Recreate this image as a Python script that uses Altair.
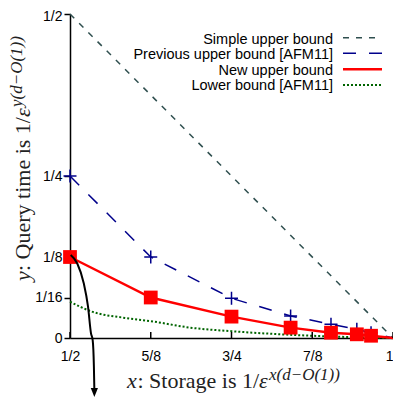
import altair as alt
import pandas as pd

# ---------------- data ----------------
x_ticks = [0.5, 0.625, 0.75, 0.875, 1.0]
x_tick_labels = ["1/2", "5/8", "3/4", "7/8", "1"]
y_ticks = [0.0, 0.0625, 0.125, 0.25, 0.5]
y_tick_labels = ["0", "1/16", "1/8", "1/4", "1/2"]

simple_x = [0.5, 1.0]
simple_y = [0.5, 0.0]

step_x = [0.5, 0.625, 0.75, 0.8415, 0.904, 0.944, 0.966, 1.0]
prev_y = [0.25, 0.125, 0.0613, 0.034, 0.0212, 0.0134, 0.008, 0.0]
new_y = [0.125, 0.0625, 0.033, 0.016, 0.0082, 0.0057, 0.0035, 0.0]
n_markers = 7

lower_x = [0.5, 0.533, 0.585, 0.625, 0.686, 0.75, 0.84, 0.9, 0.95, 1.0]
lower_y = [0.056, 0.041, 0.031, 0.026, 0.016, 0.0105, 0.005, 0.0025, 0.001, 0.0]

arrow_x = [0.5011, 0.5111, 0.5213, 0.5279, 0.5325, 0.5351, 0.5370, 0.5377]
arrow_y = [0.1281, 0.1153, 0.0844, 0.0483, 0.0072, -0.0031, -0.0443, -0.0802]
arrow_tip_x = [0.5377]
arrow_tip_y = [-0.0841]

legend_labels = ["Simple upper bound", "Previous upper bound [AFM11]",
                 "New upper bound", "Lower bound [AFM11]"]

# ---------------- styles ----------------
W, H = 323, 324
C_SIMPLE = "#2F4F4F"
C_PREV = "#00008B"
C_NEW = "#FF0000"
C_LOW = "#006400"
SANS = "Liberation Sans"
SERIF = "Liberation Serif"


def ternary(vals, labels):
    parts = [f"datum.value == {v} ? '{l}'" for v, l in zip(vals, labels)]
    return " : ".join(parts) + " : ''"


xs = alt.Scale(domain=[0.5, 1.0], nice=False, zero=False)
ys = alt.Scale(domain=[0.0, 0.5], nice=False, zero=False)

x_axis = alt.Axis(values=x_ticks, labelExpr=ternary(x_ticks, x_tick_labels), ticks=False,
                  labelPadding=11, labelFont=SANS, labelFontSize=14, labelColor="black",
                  labelAlign={"condition": {"test": "datum.value == 1", "value": "right"},
                              "value": "center"},
                  domainColor="black", domainWidth=1.5, grid=False, title=None,
                  labelFlush=False, labelOverlap=False, labelBound=False)
y_axis = alt.Axis(values=y_ticks, labelExpr=ternary(y_ticks, y_tick_labels), tickSize=6,
                  tickColor="black", tickWidth=1.5, labelPadding=2, labelFont=SANS,
                  labelFontSize=14, labelColor="black", domainColor="black", domainWidth=1.5,
                  labelOffset={"condition": {"test": "datum.value == 0.5", "value": 2},
                               "value": 0},
                  grid=False, title=None, labelFlush=False, labelOverlap=False)


def X(f="x"):
    return alt.X(f"{f}:Q", scale=xs, axis=x_axis)


def Y(f="y"):
    return alt.Y(f"{f}:Q", scale=ys, axis=y_axis)


simple_df = pd.DataFrame({"x": simple_x, "y": simple_y})
prev_df = pd.DataFrame({"x": step_x, "y": prev_y})
new_df = pd.DataFrame({"x": step_x, "y": new_y})
prev_pts = prev_df.iloc[:n_markers]
new_pts = new_df.iloc[:n_markers]
low_df = pd.DataFrame({"x": lower_x, "y": lower_y})
arrow_df = pd.DataFrame({"x": arrow_x, "y": arrow_y})
tip_df = pd.DataFrame({"x": arrow_tip_x, "y": arrow_tip_y})
tick_df = pd.DataFrame({"x": x_ticks})
one = pd.DataFrame({"a": [0]})

layers = []
layers.append(alt.Chart(simple_df).mark_line(color=C_SIMPLE, strokeWidth=1.5, strokeDash=[6, 7])
              .encode(x=X(), y=Y()))
layers.append(alt.Chart(low_df).mark_line(color=C_LOW, strokeWidth=2, strokeDash=[2, 2],
                                           interpolate="monotone").encode(x=X(), y=Y()))
layers.append(alt.Chart(prev_df).mark_line(color=C_PREV, strokeWidth=1.5, strokeDash=[13, 13])
              .encode(x=X(), y=Y()))
layers.append(alt.Chart(prev_pts).mark_point(shape="M-1,0L1,0M0,-1L0,1", size=169, filled=False,
                                             color=C_PREV, strokeWidth=1.5, opacity=1)
              .encode(x=X(), y=Y()))
layers.append(alt.Chart(new_df).mark_line(color=C_NEW, strokeWidth=2.5).encode(x=X(), y=Y()))
layers.append(alt.Chart(new_pts).mark_point(shape="square", size=190, filled=True, color=C_NEW,
                                            opacity=1).encode(x=X(), y=Y()))
layers.append(alt.Chart(tick_df).mark_rule(color="black", strokeWidth=1.5)
              .encode(x=X(), y=alt.value(H), y2=alt.value(H - 6)))
layers.append(alt.Chart(arrow_df).mark_line(color="black", strokeWidth=2, interpolate="monotone")
              .encode(x=X(), y=Y()))
layers.append(alt.Chart(tip_df).mark_point(shape="M-0.8,-1L0.8,-1L0,1Z", size=81, filled=True,
                                           color="black", opacity=1).encode(x=X(), y=Y()))

# legend (manual, symbols to the right of the labels)
leg_text_y = [26, 41, 56.5, 72]
leg_line_y = [23.7, 39.3, 55.3, 71]
leg_styles = [
    dict(color=C_SIMPLE, strokeWidth=1.5, strokeDash=[6, 7]),
    dict(color=C_PREV, strokeWidth=1.5, strokeDash=[13, 13]),
    dict(color=C_NEW, strokeWidth=2.5),
    dict(color=C_LOW, strokeWidth=2, strokeDash=[2, 2]),
]
for lab, ty, ly, st in zip(legend_labels, leg_text_y, leg_line_y, leg_styles):
    layers.append(alt.Chart(one).mark_text(text=lab, align="right", baseline="middle", font=SANS,
                                           fontSize=14.5, color="black")
                  .encode(x=alt.value(263), y=alt.value(ty)))
    layers.append(alt.Chart(one).mark_rule(**st)
                  .encode(x=alt.value(273), x2=alt.value(312), y=alt.value(ly)))


# axis titles (manual, with superscripts)
def txt(s, x, y, size=22, italic=False, angle=0):
    kw = dict(text=s, align="left", baseline="alphabetic", font=SERIF, fontSize=size,
              color="#222222")
    if italic:
        kw["fontStyle"] = "italic"
    if angle:
        kw["angle"] = angle
    return alt.Chart(one).mark_text(**kw).encode(x=alt.value(x), y=alt.value(y))


layers += [
    txt("x", 57, 374, italic=True),
    txt(": Storage is 1/", 67.5, 374),
    txt("ε", 189, 374, italic=True),
    txt("x(d−O(1))", 199, 366, size=17, italic=True),
    txt("y", -40, 267, italic=True, angle=270),
    txt(": Query time is 1/", -40, 257, angle=270),
    txt("ε", -40, 103, italic=True, angle=270),
    txt("y(d−O(1))", -48, 93, size=17, italic=True, angle=270),
]

chart = alt.layer(*layers).properties(
    width=W, height=H,
    autosize=alt.AutoSizeParams(type="none"),
    padding={"left": 62, "top": 6, "right": 0, "bottom": 60},
).configure_view(stroke=None)

chart.save("out.html", embed_options={"renderer": "svg", "actions": False})
